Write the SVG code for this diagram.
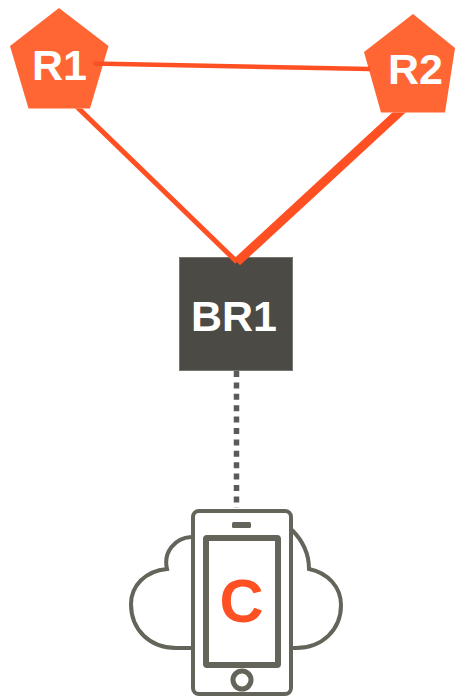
<svg xmlns="http://www.w3.org/2000/svg" width="455" height="696" viewBox="0 0 455 696">
<style>
.lbl{font-family:"Liberation Sans",Arial,sans-serif;font-weight:700;text-anchor:middle}
.w{fill:#fff}
.router{fill:#ff6633}
.link{stroke:#ff5023;fill:none}
.ol{stroke:#65645a;fill:none}
</style>
<defs>
<clipPath id="belowR1"><rect x="0" y="108.500" width="455" height="160"/></clipPath>
<clipPath id="belowR2"><rect x="0" y="112.500" width="455" height="160"/></clipPath>
</defs>
<rect width="455" height="696" fill="#fff"/>
<g id="R1"><polygon class="router" points="59,8 108.500,46 90,108.500 28.500,108.500 10,46"/><text class="lbl w" x="59.500" y="80" font-size="43">R1</text></g>
<g id="R2"><polygon class="router" points="413,14 455,48 445,112.500 381,112.500 364,52"/><text class="lbl w" x="415.500" y="84" font-size="43">R2</text></g>
<g id="BR1"><rect x="179.500" y="257.500" width="113" height="113" fill="#4c4a44" stroke="#77766f" stroke-width="1"/><text class="lbl w" x="234" y="331" font-size="43">BR1</text></g>
<g id="connectors">
<line class="link" x1="93" y1="63.500" x2="370" y2="69" stroke-width="4.500"/>
<line class="link" x1="73" y1="103" x2="237" y2="262" stroke-width="5" clip-path="url(#belowR1)"/>
<line class="link" x1="405" y1="107" x2="237" y2="262" stroke-width="9" clip-path="url(#belowR2)"/>
<line x1="236.500" y1="371" x2="236.500" y2="508" stroke="#5a5a58" stroke-width="5.500" stroke-dasharray="6 5.400"/>
</g>
<g id="C">
<path class="ol" stroke-width="4" d="M191 537C175 538 163 552 167 569C145 571 131 586 131 604C131 630 150 648 176 648H192M292 530C303 541 309 553 309 569C328 573 341 587 341 605C341 630 322 648 296 648H292"/>
<rect class="ol" x="193" y="511" width="98" height="183" rx="6" stroke-width="4" fill="#fff"/>
<rect class="ol" x="206" y="538" width="72" height="127" rx="1" stroke-width="6"/>
<rect x="232" y="522" width="19" height="6" rx="1.500" fill="#65645a"/>
<circle class="ol" cx="242" cy="680" r="9" stroke-width="5"/>
<text class="lbl" x="241.500" y="622" font-size="61" fill="#ff5023">C</text>
</g>
</svg>
